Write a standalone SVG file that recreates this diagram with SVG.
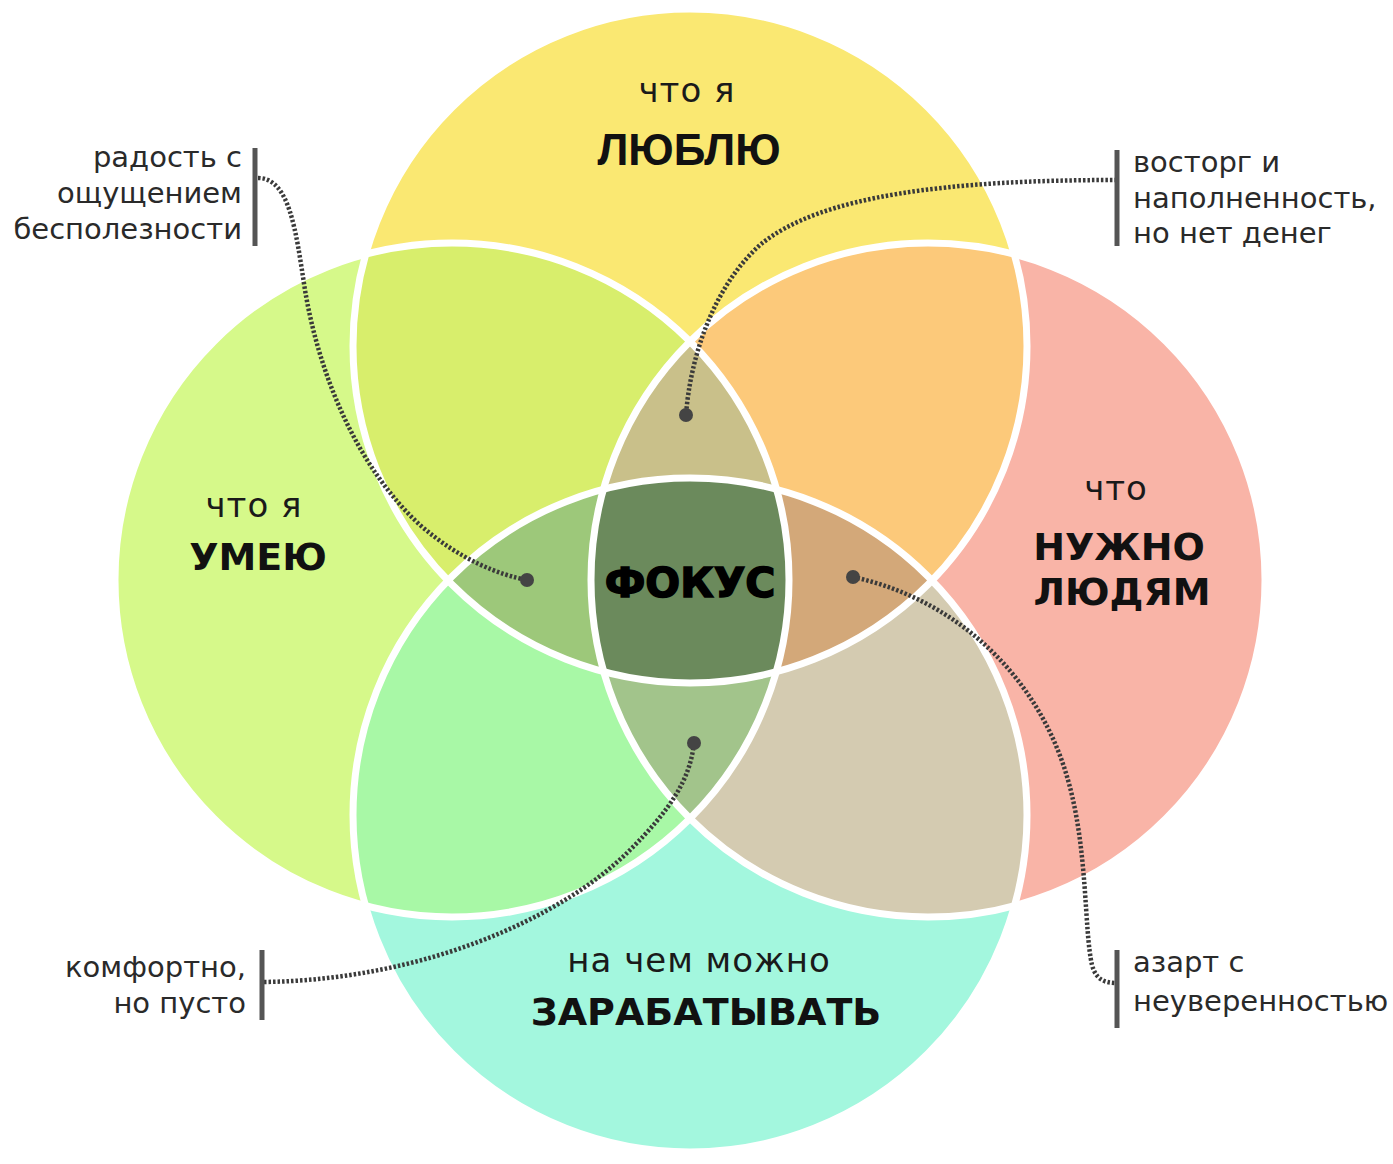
<svg xmlns="http://www.w3.org/2000/svg" width="1393" height="1164" viewBox="0 0 1393 1164">
  <defs>
    <clipPath id="cT"><circle cx="690" cy="346" r="337"/></clipPath>
    <clipPath id="cL"><circle cx="452" cy="580" r="337"/></clipPath>
    <clipPath id="cR"><circle cx="928" cy="580" r="337"/></clipPath>
    <clipPath id="cB"><circle cx="690" cy="815" r="337"/></clipPath>
    <style>
      .lbl { font-family: "DejaVu Sans", "Noto Sans", sans-serif; font-size: 29px; fill: #2a2a2a; }
      .sm { font-family: "DejaVu Sans", "Noto Sans", sans-serif; font-size: 34px; letter-spacing: 1px; fill: #1a1a1a; }
      .big { font-family: "DejaVu Sans", "Noto Sans", sans-serif; font-weight: bold; font-size: 38px; fill: #111; }
      .bar { stroke: #555; stroke-width: 5; fill: none; }
      .dots { stroke: #3a3a3a; stroke-width: 4.5; fill: none; stroke-dasharray: 2.5 2; }
      .dot { fill: #444; }
      .ring { fill: none; stroke: #ffffff; stroke-width: 7; }
    </style>
  </defs>
  <rect width="1393" height="1164" fill="#ffffff"/>

  <g id="venn-regions">
    <circle cx="690" cy="346" r="337" fill="#FAE872"/>
    <circle cx="452" cy="580" r="337" fill="#D6F98A"/>
    <circle cx="928" cy="580" r="337" fill="#F9B4A7"/>
    <circle cx="690" cy="815" r="337" fill="#A3F7DE"/>
    <circle cx="452" cy="580" r="337" fill="#D8EE6C" clip-path="url(#cT)"/>
    <circle cx="928" cy="580" r="337" fill="#FCC97A" clip-path="url(#cT)"/>
    <circle cx="690" cy="815" r="337" fill="#A8F8A6" clip-path="url(#cL)"/>
    <circle cx="690" cy="815" r="337" fill="#D4CBB1" clip-path="url(#cR)"/>
    <g clip-path="url(#cT)"><circle cx="928" cy="580" r="337" fill="#C9C08A" clip-path="url(#cL)"/></g>
    <g clip-path="url(#cT)"><circle cx="690" cy="815" r="337" fill="#9DC87A" clip-path="url(#cL)"/></g>
    <g clip-path="url(#cT)"><circle cx="690" cy="815" r="337" fill="#D3A879" clip-path="url(#cR)"/></g>
    <g clip-path="url(#cB)"><circle cx="928" cy="580" r="337" fill="#A2C48B" clip-path="url(#cL)"/></g>
    <g clip-path="url(#cT)"><g clip-path="url(#cB)"><circle cx="928" cy="580" r="337" fill="#6B8A5C" clip-path="url(#cL)"/></g></g>
    <circle class="ring" cx="690" cy="346" r="337"/>
    <circle class="ring" cx="452" cy="580" r="337"/>
    <circle class="ring" cx="928" cy="580" r="337"/>
    <circle class="ring" cx="690" cy="815" r="337"/>
  </g>

  <g id="connectors">
    <path class="dots" d="M258,178 C290,178 296,232 305,290 C320,380 360,470 420,525 C460,560 500,575 527,580"/>
    <path class="dots" d="M1117,180 C950,180 820,195 760,245 C712,288 690,360 686,415"/>
    <path class="dots" d="M264,982 C420,980 560,920 630,850 C670,810 690,780 694,743"/>
    <path class="dots" d="M853,577 C960,600 1040,680 1068,780 C1088,850 1084,930 1092,965 C1096,980 1105,983 1117,983"/>
    <circle class="dot" cx="527" cy="580" r="7"/>
    <circle class="dot" cx="686" cy="415" r="7"/>
    <circle class="dot" cx="694" cy="743" r="7"/>
    <circle class="dot" cx="853" cy="577" r="7"/>
  </g>

  <g id="node-love">
    <text class="sm" x="687" y="102" text-anchor="middle">что я</text>
    <text x="689" y="165" text-anchor="middle" font-family="Liberation Sans, Arial, sans-serif" font-weight="bold" font-size="44" fill="#111">ЛЮБЛЮ</text>
  </g>
  <g id="node-skill">
    <text class="sm" x="254" y="517" text-anchor="middle">что я</text>
    <text class="big" x="258" y="570" text-anchor="middle">УМЕЮ</text>
  </g>
  <g id="node-need">
    <text class="sm" x="1116" y="500" text-anchor="middle">что</text>
    <text class="big" x="1119" y="560" text-anchor="middle">НУЖНО</text>
    <text class="big" x="1122" y="605" text-anchor="middle">ЛЮДЯМ</text>
  </g>
  <g id="node-earn">
    <text class="sm" x="699" y="972" text-anchor="middle">на чем можно</text>
    <text class="big" x="706" y="1025" text-anchor="middle">ЗАРАБАТЫВАТЬ</text>
  </g>
  <g id="node-focus">
    <text x="690" y="597" text-anchor="middle" font-family="DejaVu Sans, sans-serif" font-weight="bold" font-size="41" fill="#000" stroke="#000" stroke-width="1.5">ФОКУС</text>
  </g>

  <g id="note-joy">
    <line class="bar" x1="255" y1="148" x2="255" y2="246"/>
    <text class="lbl" x="242" y="167" text-anchor="end">радость с</text>
    <text class="lbl" x="242" y="203" text-anchor="end">ощущением</text>
    <text class="lbl" x="242" y="239" text-anchor="end">бесполезности</text>
  </g>
  <g id="note-delight">
    <line class="bar" x1="1117" y1="150" x2="1117" y2="246"/>
    <text class="lbl" x="1133" y="172">восторг и</text>
    <text class="lbl" x="1133" y="208">наполненность,</text>
    <text class="lbl" x="1133" y="243">но нет денег</text>
  </g>
  <g id="note-comfort">
    <line class="bar" x1="262" y1="950" x2="262" y2="1020"/>
    <text class="lbl" x="246" y="977" text-anchor="end">комфортно,</text>
    <text class="lbl" x="246" y="1013" text-anchor="end">но пусто</text>
  </g>
  <g id="note-excite">
    <line class="bar" x1="1117" y1="950" x2="1117" y2="1028"/>
    <text class="lbl" x="1133" y="972">азарт с</text>
    <text class="lbl" x="1133" y="1011">неуверенностью</text>
  </g>
</svg>
